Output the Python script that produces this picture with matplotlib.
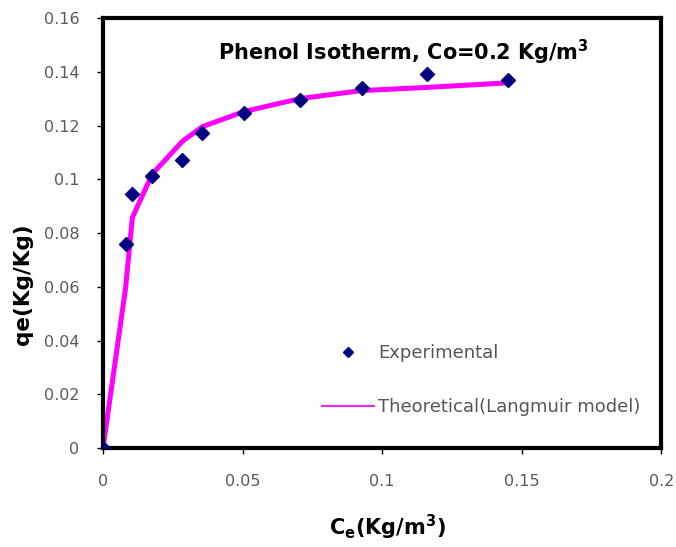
import matplotlib
matplotlib.use("Agg")
import matplotlib.pyplot as plt
from matplotlib.lines import Line2D

plt.rcParams['font.family'] = ['DejaVu Sans']
plt.rcParams['mathtext.fontset'] = 'dejavusans'

# Experimental data
ce_exp = [0.0, 0.0081, 0.0105, 0.0176, 0.0284, 0.0356, 0.0505, 0.0704, 0.0926, 0.1162, 0.1452]
qe_exp = [0.0, 0.0758, 0.0946, 0.1011, 0.1070, 0.1171, 0.1246, 0.1295, 0.1338, 0.1390, 0.1369]

# Theoretical (Langmuir model) values at the same Ce
qe_theo = [0.0, 0.0597, 0.0857, 0.1019, 0.1141, 0.1196, 0.1252, 0.1300, 0.1330, 0.1342, 0.1359]

xticks = [0, 0.05, 0.1, 0.15, 0.2]
xtick_labels = ['0', '0.05', '0.1', '0.15', '0.2']
yticks = [0, 0.02, 0.04, 0.06, 0.08, 0.1, 0.12, 0.14, 0.16]
ytick_labels = ['0', '0.02', '0.04', '0.06', '0.08', '0.1', '0.12', '0.14', '0.16']

fig = plt.figure(figsize=(6.76, 5.47), dpi=100)
ax = fig.add_axes([0.1524, 0.181, 0.826, 0.786])

ax.plot(ce_exp, qe_theo, color='#FF00FF', lw=3.6, solid_joinstyle='round', zorder=2)
ax.plot(ce_exp, qe_exp, linestyle='none', marker='D', markersize=7,
        color='#000080', zorder=3)

ax.set_xlim(0, 0.2)
ax.set_ylim(0, 0.16)
ax.set_xticks(xticks)
ax.set_xticklabels(xtick_labels)
ax.set_yticks(yticks)
ax.set_yticklabels(ytick_labels)
ax.tick_params(direction='out', length=4, width=1, colors='black',
               labelcolor='#5a5a5a', labelsize=11.5)
ax.tick_params(axis='x', pad=15)
ax.tick_params(axis='y', pad=13)
for s in ax.spines.values():
    s.set_linewidth(3)
    s.set_color('black')

ax.set_xlabel(r'C$_\mathbf{e}$(Kg/m$^\mathbf{3}$)', fontsize=15, fontweight='bold')
ax.xaxis.set_label_coords(0.51, -0.15)
ax.set_ylabel('qe(Kg/Kg)', fontsize=15.5, fontweight='bold')
ax.yaxis.set_label_coords(-0.125, 0.38)

ax.text(0.206, 0.92, r'Phenol Isotherm, Co=0.2 Kg/m$^\mathbf{3}$', transform=ax.transAxes,
        fontsize=15, fontweight='bold', ha='left', va='center')

handles = [Line2D([], [], linestyle='none', marker='D', markersize=5.5, color='#000080'),
           Line2D([], [], color='#DD33DD', lw=1.6)]
leg = fig.legend(handles, ['Experimental', 'Theoretical(Langmuir model)'],
                 loc='upper left', bbox_to_anchor=(322 / 676, 1 - 344 / 547),
                 frameon=False, fontsize=13, labelspacing=2.0, handlelength=2.9,
                 handletextpad=0.2, borderpad=0, borderaxespad=0)
for t in leg.get_texts():
    t.set_color('#555555')

fig.savefig('out.png', dpi=100)
